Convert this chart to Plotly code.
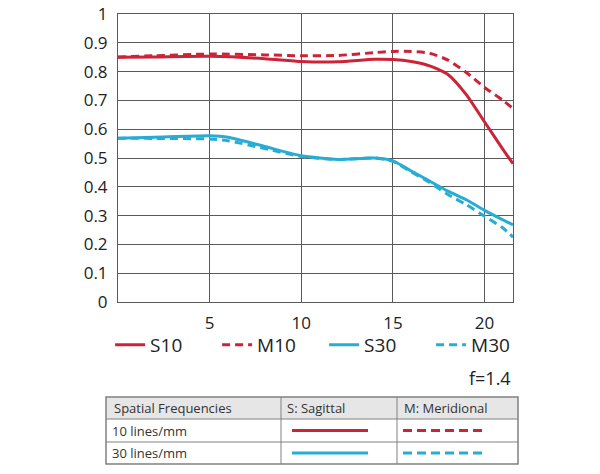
import plotly.graph_objects as go

# ---- data ----
x10 = [0, 2, 5, 8, 10, 12, 14, 15, 16, 17, 18, 19, 20, 21, 21.55]
s10 = [0.850, 0.851, 0.853, 0.845, 0.835, 0.834, 0.843, 0.842, 0.835, 0.820, 0.790, 0.720, 0.625, 0.530, 0.480]
m10 = [0.851, 0.855, 0.861, 0.858, 0.855, 0.856, 0.866, 0.870, 0.870, 0.864, 0.840, 0.797, 0.745, 0.700, 0.672]

x30 = [0, 2, 5, 6, 8, 10, 12, 14, 15, 16, 17, 18, 19, 20, 21, 21.55]
s30 = [0.569, 0.572, 0.577, 0.572, 0.540, 0.508, 0.495, 0.500, 0.490, 0.455, 0.420, 0.385, 0.355, 0.318, 0.285, 0.268]
m30 = [0.569, 0.568, 0.566, 0.560, 0.533, 0.505, 0.495, 0.500, 0.488, 0.452, 0.415, 0.373, 0.338, 0.298, 0.257, 0.225]

x_ticks = [5, 10, 15, 20]
y_ticks = [0, 0.1, 0.2, 0.3, 0.4, 0.5, 0.6, 0.7, 0.8, 0.9, 1]
y_labels = ["0", "0.1", "0.2", "0.3", "0.4", "0.5", "0.6", "0.7", "0.8", "0.9", "1"]

table_header = ["Spatial Frequencies", "S: Sagittal", "M: Meridional"]
table_rows = ["10 lines/mm", "30 lines/mm"]
note = "f=1.4"

RED = "#cc2338"
CYAN = "#27acd4"
FONT = "Open Sans"
GRID = "#5a5a5a"

fig = go.Figure()
fig.add_trace(go.Scatter(x=x10, y=s10, name="S10", mode="lines",
                         line=dict(color=RED, width=3, shape="spline", smoothing=0.6)))
fig.add_trace(go.Scatter(x=x10, y=m10, name="M10", mode="lines",
                         line=dict(color=RED, width=3, dash="8px,5px", shape="spline", smoothing=0.6)))
fig.add_trace(go.Scatter(x=x30, y=s30, name="S30", mode="lines",
                         line=dict(color=CYAN, width=3, shape="spline", smoothing=0.6)))
fig.add_trace(go.Scatter(x=x30, y=m30, name="M30", mode="lines",
                         line=dict(color=CYAN, width=3, dash="8px,5px", shape="spline", smoothing=0.6)))

fig.update_layout(
    width=600, height=474,
    margin=dict(l=118, r=87, t=14, b=172, autoexpand=False),
    paper_bgcolor="white", plot_bgcolor="white",
    font=dict(family=FONT, size=17, color="#222"),
    showlegend=True,
    legend=dict(orientation="h", x=-0.02, y=-0.149, xanchor="left", yanchor="middle",
                entrywidth=62, font=dict(size=19, color="#222"),
                bgcolor="rgba(0,0,0,0)", traceorder="normal"),
    xaxis=dict(range=[0, 21.55], tickvals=x_ticks, showgrid=True, gridcolor=GRID, gridwidth=1,
               showline=True, mirror=True, linecolor=GRID, linewidth=1, zeroline=False,
               ticks="", ticklabelstandoff=6, tickfont=dict(size=17), automargin=False,
               ticklabeloverflow="allow"),
    yaxis=dict(range=[0, 1], tickvals=y_ticks, ticktext=y_labels, showgrid=True, gridcolor=GRID,
               gridwidth=1, showline=True, mirror=True, linecolor=GRID, linewidth=1, zeroline=False,
               ticks="", ticklabelstandoff=6, tickfont=dict(size=17), automargin=False,
               ticklabeloverflow="allow"),
)

# ---- helpers: reference-pixel -> paper coordinates ----
def px(xp):
    return (xp - 118) / 395.0

def py(yp):
    return (302 - yp) / 288.0

fig.add_annotation(text=note, xref="paper", yref="paper", x=px(513), y=py(378),
                   xanchor="right", yanchor="middle", showarrow=False, font=dict(size=18, color="#222"))

TL, TR = 106, 518
C1, C2 = 281, 397
R0, R1, R2, R3 = 397, 419, 442, 464
BORDER = "#808080"

fig.add_shape(type="rect", xref="paper", yref="paper", x0=px(TL), x1=px(TR), y0=py(R1), y1=py(R0),
              fillcolor="#e6e6e6", line=dict(width=0), layer="below")
fig.add_shape(type="rect", xref="paper", yref="paper", x0=px(TL), x1=px(TR), y0=py(R3), y1=py(R0),
              line=dict(color=BORDER, width=1.5))
for yy in (R1, R2):
    fig.add_shape(type="line", xref="paper", yref="paper", x0=px(TL), x1=px(TR), y0=py(yy), y1=py(yy),
                  line=dict(color=BORDER, width=1))
for xx in (C1, C2):
    fig.add_shape(type="line", xref="paper", yref="paper", x0=px(xx), x1=px(xx), y0=py(R0), y1=py(R3),
                  line=dict(color=BORDER, width=1))

col_x = [TL + 6, C1 + 4, C2 + 5]
for cx, txt in zip(col_x, table_header):
    fig.add_annotation(text=txt, xref="paper", yref="paper", x=px(cx), y=py((R0 + R1) / 2),
                       xanchor="left", yanchor="middle", showarrow=False, font=dict(size=13, color="#333"))
row_y = [(R1 + R2) / 2, (R2 + R3) / 2]
for ry, txt in zip(row_y, table_rows):
    fig.add_annotation(text=txt, xref="paper", yref="paper", x=px(TL + 4), y=py(ry),
                       xanchor="left", yanchor="middle", showarrow=False, font=dict(size=13, color="#333"))

for ry, col in zip(row_y, (RED, CYAN)):
    fig.add_shape(type="line", xref="paper", yref="paper", x0=px(292), x1=px(368), y0=py(ry), y1=py(ry),
                  line=dict(color=col, width=3))
    fig.add_shape(type="line", xref="paper", yref="paper", x0=px(403), x1=px(487), y0=py(ry), y1=py(ry),
                  line=dict(color=col, width=3, dash="9px,5px"))

# remove the browser's default 8px page margin so the 600x474 figure fills the window exactly
fig.write_html("out.html", config={"displayModeBar": False},
               post_script="document.body.style.margin='0';")
